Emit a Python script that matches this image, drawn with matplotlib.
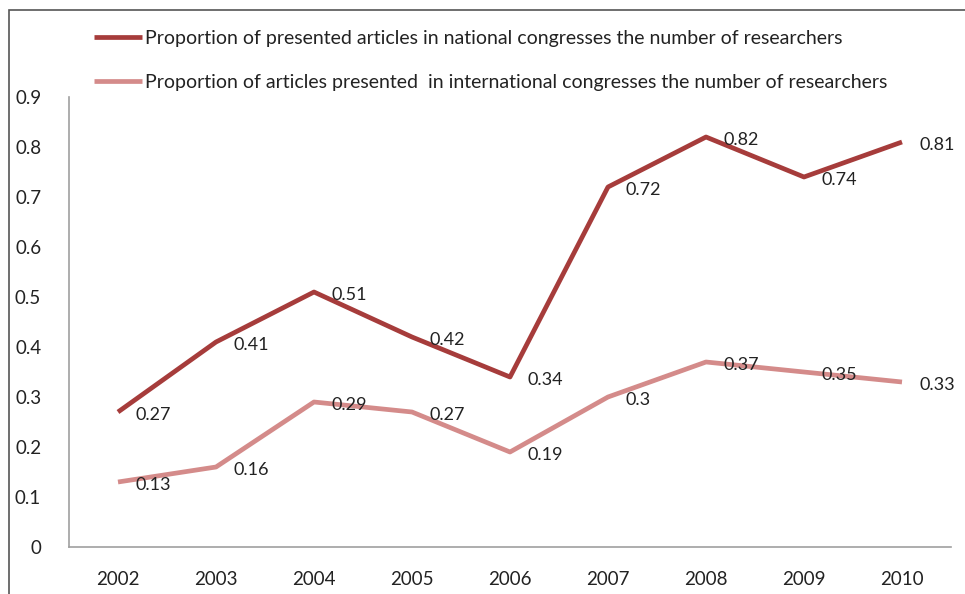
import matplotlib
matplotlib.use("Agg")
import matplotlib.pyplot as plt
from matplotlib.patches import Rectangle

years = ["2002", "2003", "2004", "2005", "2006", "2007", "2008", "2009", "2010"]
national = [0.27, 0.41, 0.51, 0.42, 0.34, 0.72, 0.82, 0.74, 0.81]
international = [0.13, 0.16, 0.29, 0.27, 0.19, 0.30, 0.37, 0.35, 0.33]
national_label = "Proportion of presented articles in national congresses the number of researchers"
international_label = "Proportion of articles presented  in international congresses the number of researchers"
yticks = [0, 0.1, 0.2, 0.3, 0.4, 0.5, 0.6, 0.7, 0.8, 0.9]
ytick_labels = ["0", "0.1", "0.2", "0.3", "0.4", "0.5", "0.6", "0.7", "0.8", "0.9"]

plt.rcParams['font.family'] = ['Lato', 'DejaVu Sans']

W, H = 965, 594
fig = plt.figure(figsize=(W / 100, H / 100), dpi=100)
ax = fig.add_axes([69 / W, 1 - 547 / H, (951 - 69) / W, (547 - 97) / H])

c1 = "#A63C3B"
c2 = "#D48B8A"
x = list(range(len(years)))
ax.plot(x, national, color=c1, lw=3.4, solid_capstyle='butt', label=national_label)
ax.plot(x, international, color=c2, lw=3.4, solid_capstyle='butt', label=international_label)

for xi, v in zip(x, national):
    ax.annotate(f"{v:g}", (xi, v), xytext=(17, -3), textcoords='offset pixels',
                ha='left', va='center', fontsize=13, color='#222222')
for xi, v in zip(x, international):
    ax.annotate(f"{v:g}", (xi, v), xytext=(17, -3), textcoords='offset pixels',
                ha='left', va='center', fontsize=13, color='#222222')

ax.set_xlim(-0.5, len(years) - 0.5)
ax.set_ylim(0, 0.9)
ax.set_xticks(x)
ax.set_xticklabels(years)
ax.set_yticks(yticks)
ax.set_yticklabels(ytick_labels)
ax.tick_params(axis='both', length=0, labelsize=13.5, colors='#222222')
ax.tick_params(axis='x', pad=17)
ax.tick_params(axis='y', pad=20)
for s in ['top', 'right']:
    ax.spines[s].set_visible(False)
for s in ['left', 'bottom']:
    ax.spines[s].set_color('#A0A0A0')
    ax.spines[s].set_linewidth(1.2)

leg = fig.legend(loc='upper left', bbox_to_anchor=(94 / W, 1 - 30 / H), frameon=False,
                 fontsize=14, handlelength=2.45, handletextpad=0.15, labelspacing=1.38,
                 borderpad=0, borderaxespad=0)
for t in leg.get_texts():
    t.set_color('#222222')

fig.patches.append(Rectangle((9 / W, -0.05), 1.0, 1 - 10 / H + 0.05, transform=fig.transFigure,
                             fill=False, edgecolor='#555555', lw=1.2))

fig.savefig("out.png", dpi=100)
